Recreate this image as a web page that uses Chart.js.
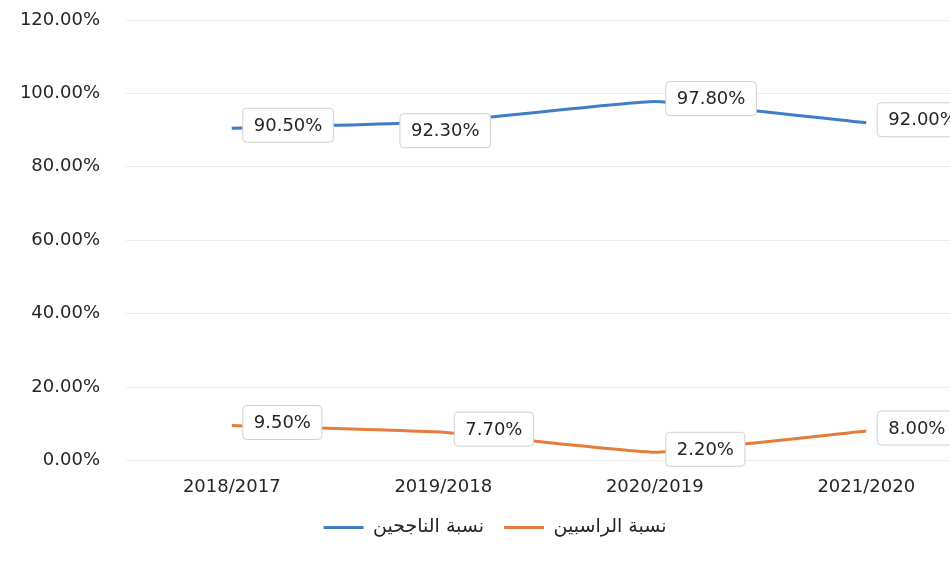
<!DOCTYPE html>
<html>
<head>
<meta charset="utf-8">
<script src="https://cdn.jsdelivr.net/npm/chart.js@4"></script>
<style>
  html, body { margin: 0; padding: 0; background: #fff; overflow: hidden; }
  #wrap { width: 972px; height: 563px; position: relative; }
</style>
</head>
<body>
<div id="wrap"><canvas id="chart"></canvas></div>
<script>
const years = ["2018/2017", "2019/2018", "2020/2019", "2021/2020"];
const passRate = [90.5, 92.3, 97.8, 92.0];
const failRate = [9.5, 7.7, 2.2, 8.0];
const passLabel = "نسبة الناجحين";
const failLabel = "نسبة الراسبين";

// boxed value labels, drawn next to each point
const boxLabels = {
  id: "boxLabels",
  afterDatasetsDraw(chart, args, opts) {
    const ctx = chart.ctx;
    ctx.save();
    ctx.font = "18px 'DejaVu Sans'";
    ctx.textBaseline = "middle";
    chart.data.datasets.forEach((ds, di) => {
      const meta = chart.getDatasetMeta(di);
      meta.data.forEach((pt, i) => {
        const text = ds.data[i].toFixed(2) + "%";
        const w = ctx.measureText(text).width + 22;
        const h = 34;
        let x = pt.x + 11;
        let y = pt.y - h / 2 - 3;
        const special = (opts.below || []).find(b => b[0] === di && b[1] === i);
        if (special) {
          x = pt.x - w / 2 + 2;
          y = pt.y - 8;
        }
        ctx.beginPath();
        ctx.roundRect(x, y, w, h, 4);
        ctx.fillStyle = "#fff";
        ctx.fill();
        ctx.strokeStyle = "#d0d0d0";
        ctx.lineWidth = 1;
        ctx.stroke();
        ctx.fillStyle = "#262626";
        ctx.textAlign = "center";
        ctx.fillText(text, x + w / 2, y + h / 2 + 1);
      });
    });
    ctx.restore();
  }
};

new Chart(document.getElementById("chart"), {
  type: "line",
  data: {
    labels: years,
    datasets: [
      {
        label: passLabel,
        data: passRate,
        borderColor: "#3f7dc8",
        backgroundColor: "#3f7dc8",
        borderWidth: 3,
        pointRadius: 0,
        tension: 0.1
      },
      {
        label: failLabel,
        data: failRate,
        borderColor: "#e47c3c",
        backgroundColor: "#e47c3c",
        borderWidth: 3,
        pointRadius: 0,
        tension: 0.1
      }
    ]
  },
  options: {
    responsive: true,
    maintainAspectRatio: false,
    animation: false,
    layout: { padding: { left: 18, right: 0, top: 0, bottom: 16 } },
    scales: {
      x: {
        offset: true,
        grid: { display: false, drawTicks: true, tickLength: 16 },
        border: { display: false },
        ticks: {
          color: "#262626",
          font: { family: "DejaVu Sans", size: 18 },
          padding: 0
        }
      },
      y: {
        min: 0,
        max: 120,
        grid: { color: "#ececec", drawTicks: false },
        border: { display: false },
        ticks: {
          stepSize: 20,
          padding: 26,
          color: "#262626",
          font: { family: "DejaVu Sans", size: 18 },
          callback: v => v.toFixed(2) + "%"
        },
        afterFit: s => {
          s.width = 108;
          s.paddingTop = 20;
          s.paddingBottom = 0;
        }
      }
    },
    plugins: {
      legend: {
        position: "bottom",
        labels: {
          usePointStyle: true,
          pointStyle: "line",
          pointStyleWidth: 40,
          boxHeight: 3,
          padding: 20,
          color: "#262626",
          font: { family: "DejaVu Sans", size: 19 }
        }
      },
      tooltip: { enabled: false },
      boxLabels: { below: [[0, 1]] }
    }
  },
  plugins: [boxLabels]
});
</script>
</body>
</html>
